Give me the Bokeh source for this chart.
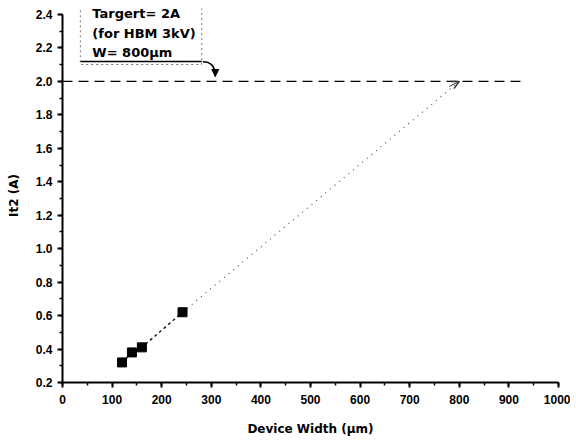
from bokeh.plotting import figure
from bokeh.models import Range1d, FixedTicker, Label, Arrow, NormalHead, OpenHead, CustomJSTickFormatter
from bokeh.embed import file_html
from bokeh.resources import INLINE

# data
width_um = [120, 140, 160, 242]
it2_a = [0.32, 0.38, 0.41, 0.62]
target_w = 800
target_it2 = 2.0
dash_x_end = 925
x_ticks = [0, 100, 200, 300, 400, 500, 600, 700, 800, 900, 1000]
y_ticks = [0.2, 0.4, 0.6, 0.8, 1.0, 1.2, 1.4, 1.6, 1.8, 2.0, 2.2, 2.4]
note_text = "Targert= 2A\n(for HBM 3kV)\nW= 800\u03bcm"
note_x, note_y = 36, 2.46
note_box_x = (36, 281)
note_box_bottom = 2.119
arrow_start = (283, 2.117)
arrow_end = (308, 2.03)

FONT = "Liberation Sans"
NOTE_FONT = "DejaVu Sans"

p = figure(width=570, height=438, output_backend="svg", toolbar_location=None,
           x_range=Range1d(0, 1000), y_range=Range1d(0.2, 2.436),
           min_border_left=62, min_border_right=12, min_border_top=8, min_border_bottom=56)
p.outline_line_color = None
p.grid.grid_line_color = None
p.background_fill_color = "white"

# axes
p.xaxis.ticker = FixedTicker(ticks=x_ticks, minor_ticks=list(range(0, 1001, 50)))
p.yaxis.ticker = FixedTicker(ticks=y_ticks, minor_ticks=[round(0.2 + 0.1 * i, 2) for i in range(23)])
p.yaxis.bounds = (0.2, 2.4)
p.yaxis.formatter = CustomJSTickFormatter(code="return tick.toFixed(1);")
for ax in (p.xaxis[0], p.yaxis[0]):
    ax.axis_line_width = 2
    ax.axis_line_color = "black"
    ax.major_tick_line_color = "black"
    ax.major_tick_line_width = 2
    ax.major_tick_out = 5
    ax.major_tick_in = 0
    ax.minor_tick_line_color = "black"
    ax.minor_tick_line_width = 1.5
    ax.minor_tick_out = 3
    ax.minor_tick_in = 0
    ax.major_label_text_font = FONT
    ax.major_label_text_font_style = "bold"
    ax.major_label_text_font_size = "12px"
    ax.major_label_text_color = "black"
    ax.axis_label_text_font = NOTE_FONT
    ax.axis_label_text_font_style = "bold"
    ax.axis_label_text_font_size = "12px"
    ax.axis_label_text_color = "black"
p.xaxis.axis_label = "Device Width (\u03bcm)"
p.yaxis.axis_label = "It2 (A)"
p.xaxis.major_label_standoff = 7
p.xaxis.axis_label_standoff = 15
p.yaxis.major_label_standoff = 5
p.yaxis.axis_label_standoff = 12

# target dashed line
p.line([0, dash_x_end], [target_it2, target_it2], line_color="black", line_width=1.2, line_dash="10 6")

# extrapolation dotted line
p.line([width_um[-1], target_w], [it2_a[-1], target_it2], line_color="#555555", line_width=1.2, line_dash="1 5")
# measured connection
p.line(width_um, it2_a, line_color="#222222", line_width=1.5, line_dash="3 3")
p.scatter(width_um, it2_a, marker="square", size=9, fill_color="black", line_color="black")

# arrowhead at target
p.add_layout(Arrow(end=OpenHead(size=8, line_color="#333333", line_width=1.5),
                   x_start=target_w - 20, y_start=target_it2 - 0.03, x_end=target_w, y_end=target_it2,
                   line_color="#333333", line_width=1))

# note box
p.add_layout(Label(x=note_x, y=note_y, text=note_text, text_font=NOTE_FONT,
                   text_font_style="bold", text_font_size="13px", text_color="black",
                   text_line_height=1.3, text_baseline="top",
                   x_offset=0, y_offset=0, padding=dict(left=12, right=6, top=2, bottom=4),
                   border_line_color="#777777", border_line_dash="2 3", border_line_width=1,
                   background_fill_alpha=0))
p.line(list(note_box_x), [note_box_bottom, note_box_bottom], line_color="black", line_width=1.5)

# curved pointer from note to line
p.bezier(x0=[arrow_start[0]], y0=[arrow_start[1]], x1=[arrow_end[0]], y1=[arrow_end[1]],
         cx0=[arrow_start[0] + 18], cy0=[arrow_start[1] + 0.0], cx1=[arrow_end[0]], cy1=[arrow_end[1] + 0.05],
         line_color="black", line_width=1.5)
p.add_layout(Arrow(end=NormalHead(size=7, fill_color="black", line_color="black"),
                   x_start=arrow_end[0], y_start=arrow_end[1] + 0.02, x_end=arrow_end[0], y_end=arrow_end[1],
                   line_color="black", line_width=1.5))

open("out.html", "w").write(file_html(p, INLINE))
